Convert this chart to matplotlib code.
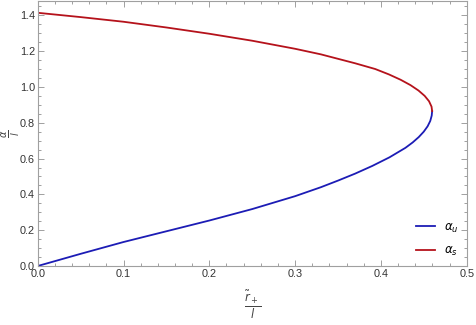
import numpy as np
import matplotlib.pyplot as plt
from matplotlib.ticker import MultipleLocator

plt.rcParams['font.family'] = ['Liberation Sans', 'DejaVu Sans']
plt.rcParams['mathtext.fontset'] = 'dejavusans'

# r/l on x, alpha/l on y
r_u = [0.0, 0.05, 0.10, 0.15, 0.20, 0.25, 0.30, 0.33, 0.35, 0.37, 0.39, 0.41, 0.4286,
       0.4370, 0.4441, 0.4499, 0.4544, 0.4575, 0.4592, 0.4597]
a_u = [0.0, 0.068, 0.134, 0.194, 0.254, 0.318, 0.390, 0.440, 0.477, 0.516, 0.559, 0.607, 0.660,
       0.690, 0.720, 0.750, 0.780, 0.810, 0.840, 0.865]

r_s = [0.4597, 0.4590, 0.4561, 0.4510, 0.4438, 0.4345, 0.4230, 0.4093, 0.3934,
       0.37, 0.35, 0.33, 0.30, 0.25, 0.20, 0.15, 0.10, 0.05, 0.0]
a_s = [0.865, 0.890, 0.920, 0.950, 0.980, 1.010, 1.040, 1.070, 1.100,
       1.132, 1.157, 1.182, 1.213, 1.258, 1.297, 1.332, 1.364, 1.390, 1.414]

blue = '#1c1cb5'
red = '#b5121b'

fig = plt.figure(figsize=(4.76, 3.25), dpi=100)
ax = fig.add_axes([0.0792, 0.1815, 0.9013, 0.8155])

ax.plot(r_u, a_u, color=blue, lw=1.3, label=r'$\alpha_u$')
ax.plot(r_s, a_s, color=red, lw=1.3, label=r'$\alpha_s$')

ax.set_xlim(0, 0.5)
ax.set_ylim(0, 1.48)
ax.xaxis.set_major_locator(MultipleLocator(0.1))
ax.xaxis.set_minor_locator(MultipleLocator(0.02))
ax.yaxis.set_major_locator(MultipleLocator(0.2))
ax.yaxis.set_minor_locator(MultipleLocator(0.05))
ax.xaxis.set_major_formatter(plt.FuncFormatter(lambda v, p: f'{v:.1f}'))
ax.yaxis.set_major_formatter(plt.FuncFormatter(lambda v, p: f'{v:.1f}'))

for s in ax.spines.values():
    s.set_color('#a0a0a0')
    s.set_linewidth(0.8)
ax.tick_params(which='both', direction='in', top=True, right=True,
               colors='#a0a0a0', labelcolor='#333333', labelsize=7.8, width=0.7)
ax.tick_params(which='major', length=4, pad=2)
ax.tick_params(which='minor', length=2.2)

ax.text(0.5, -0.148, r'$\frac{\tilde{r}_+}{l}$', transform=ax.transAxes,
        ha='center', va='center', fontsize=12, color='#444444')
ax.text(-0.062, 0.5, r'$\frac{\alpha}{l}$', transform=ax.transAxes, rotation=90,
        ha='center', va='center', fontsize=10, color='#444444')

leg = ax.legend(loc='lower right', frameon=False, fontsize=8.5, handlelength=1.6,
                labelspacing=0.9, borderaxespad=0.25, handletextpad=0.8)

fig.savefig('out.png', dpi=100)
